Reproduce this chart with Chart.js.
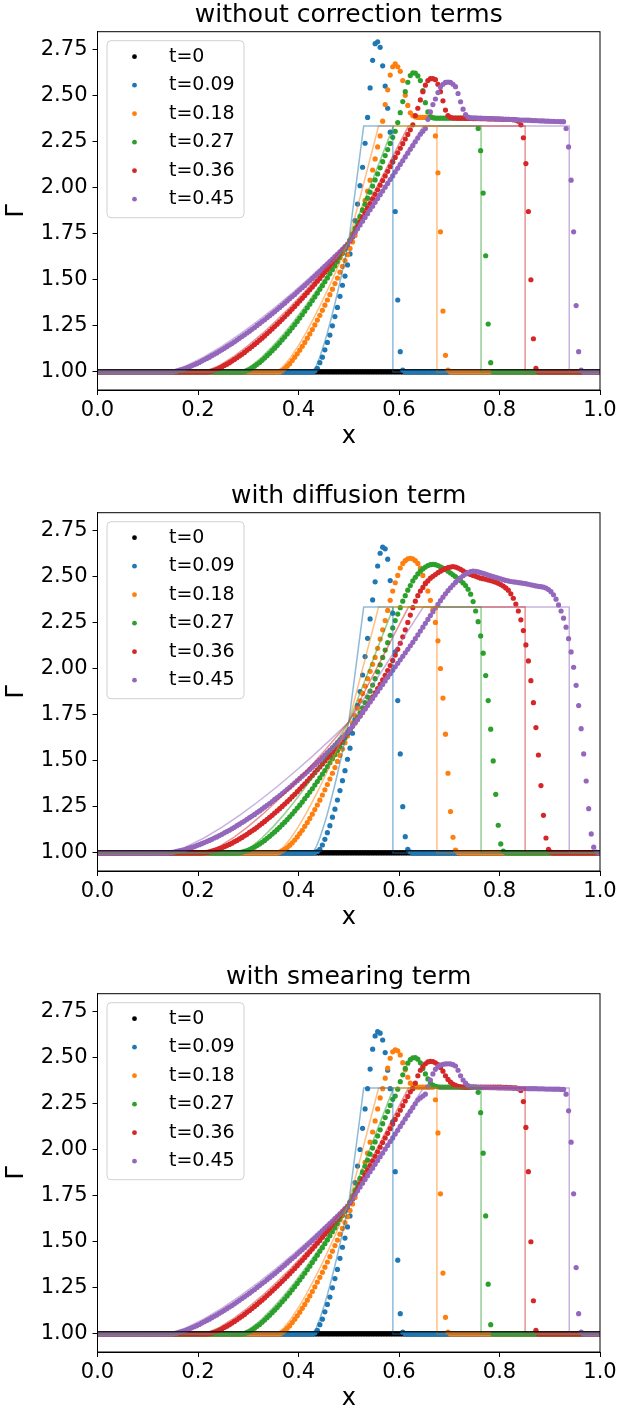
<!DOCTYPE html>
<html lang="en">
<head>
<meta charset="UTF-8">
<title>Gamma profiles</title>
<script src="https://cdn.jsdelivr.net/npm/chart.js"></script>
<style>
  body { margin: 0; background: #fff; width: 619px; height: 1413px; overflow: hidden; position: relative; }
  .panel { position: absolute; left: 0; width: 619px; height: 451px; }
</style>
</head>
<body>
<div class="panel" style="top:0"><canvas id="c1" width="619" height="451"></canvas></div>
<div class="panel" style="top:481px"><canvas id="c2" width="619" height="451"></canvas></div>
<div class="panel" style="top:962px"><canvas id="c3" width="619" height="451"></canvas></div>
<script>
// cell centres of the grid
const XS = [
0.0025,0.0075,0.0125,0.0175,0.0225,0.0275,0.0325,0.0375,0.0425,0.0475,0.0525,0.0575,0.0625,0.0675,0.0725,0.0775,0.0825,0.0875,0.0925,0.0975,
0.1025,0.1075,0.1125,0.1175,0.1225,0.1275,0.1325,0.1375,0.1425,0.1475,0.1525,0.1575,0.1625,0.1675,0.1725,0.1775,0.1825,0.1875,0.1925,0.1975,
0.2025,0.2075,0.2125,0.2175,0.2225,0.2275,0.2325,0.2375,0.2425,0.2475,0.2525,0.2575,0.2625,0.2675,0.2725,0.2775,0.2825,0.2875,0.2925,0.2975,
0.3025,0.3075,0.3125,0.3175,0.3225,0.3275,0.3325,0.3375,0.3425,0.3475,0.3525,0.3575,0.3625,0.3675,0.3725,0.3775,0.3825,0.3875,0.3925,0.3975,
0.4025,0.4075,0.4125,0.4175,0.4225,0.4275,0.4325,0.4375,0.4425,0.4475,0.4525,0.4575,0.4625,0.4675,0.4725,0.4775,0.4825,0.4875,0.4925,0.4975,
0.5025,0.5075,0.5125,0.5175,0.5225,0.5275,0.5325,0.5375,0.5425,0.5475,0.5525,0.5575,0.5625,0.5675,0.5725,0.5775,0.5825,0.5875,0.5925,0.5975,
0.6025,0.6075,0.6125,0.6175,0.6225,0.6275,0.6325,0.6375,0.6425,0.6475,0.6525,0.6575,0.6625,0.6675,0.6725,0.6775,0.6825,0.6875,0.6925,0.6975,
0.7025,0.7075,0.7125,0.7175,0.7225,0.7275,0.7325,0.7375,0.7425,0.7475,0.7525,0.7575,0.7625,0.7675,0.7725,0.7775,0.7825,0.7875,0.7925,0.7975,
0.8025,0.8075,0.8125,0.8175,0.8225,0.8275,0.8325,0.8375,0.8425,0.8475,0.8525,0.8575,0.8625,0.8675,0.8725,0.8775,0.8825,0.8875,0.8925,0.8975,
0.9025,0.9075,0.9125,0.9175,0.9225,0.9275,0.9325,0.9375,0.9425,0.9475,0.9525,0.9575,0.9625,0.9675,0.9725,0.9775,0.9825,0.9875,0.9925,0.9975
];

// t=0, same in every panel
const T0 = [
1,1,1,1,1,1,1,1,1,1,1,1,1,1,1,1,1,1,1,1,
1,1,1,1,1,1,1,1,1,1,1,1,1,1,1,1,1,1,1,1,
1,1,1,1,1,1,1,1,1,1,1,1,1,1,1,1,1,1,1,1,
1,1,1,1,1,1,1,1,1,1,1,1,1,1,1,1,1,1,1,1,
1,1,1,1,1,1,1,1,1,1,1,1,1,1,1,1,1,1,1,1,
1,1,1,1,1,1,1,1,1,1,1,1,1,1,1,1,1,1,1,1,
1,1,1,1,1,1,1,1,1,1,1,1,1,1,1,1,1,1,1,1,
1,1,1,1,1,1,1,1,1,1,1,1,1,1,1,1,1,1,1,1,
1,1,1,1,1,1,1,1,1,1,1,1,1,1,1,1,1,1,1,1,
1,1,1,1,1,1,1,1,1,1,1,1,1,1,1,1,1,1,1,1
];

// ---- without correction terms ----
const NOCORR_09 = [
1,1,1,1,1,1,1,1,1,1,1,1,1,1,1,1,1,1,1,1,
1,1,1,1,1,1,1,1,1,1,1,1,1,1,1,1,1,1,1,1,
1,1,1,1,1,1,1,1,1,1,1,1,1,1,1,1,1,1,1,1,
1,1,1,1,1,1,1,1,1,1,1,1,1,1,1,1,1,1,1,1,
1,1,1,1,1,1,1.005,1.02,1.05,1.08,1.12,1.16,1.2,1.25,1.3,1.35,1.41,1.47,1.52,1.58,
1.64,1.73,1.82,1.91,2.01,2.11,2.24,2.38,2.54,2.69,2.78,2.79,2.76,2.66,2.55,2.43,2.3,2.14,1.87,1.39,
1.11,1.01,1,1,1,1,1,1,1,1,1,1,1,1,1,1,1,1,1,1,
1,1,1,1,1,1,1,1,1,1,1,1,1,1,1,1,1,1,1,1,
1,1,1,1,1,1,1,1,1,1,1,1,1,1,1,1,1,1,1,1,
1,1,1,1,1,1,1,1,1,1,1,1,1,1,1,1,1,1,1,1
];
const NOCORR_18 = [
1,1,1,1,1,1,1,1,1,1,1,1,1,1,1,1,1,1,1,1,
1,1,1,1,1,1,1,1,1,1,1,1,1,1,1,1,1,1,1,1,
1,1,1,1,1,1,1,1,1,1,1,1,1,1,1,1,1,1,1,1,
1,1,1,1,1,1,1,1,1,1,1,1,1,1.007,1.018,1.031,1.045,1.062,1.08,1.098,
1.118,1.139,1.16,1.183,1.206,1.23,1.255,1.281,1.307,1.334,1.362,1.39,1.419,1.449,1.479,1.509,1.541,1.572,1.604,1.636,
1.67,1.705,1.74,1.782,1.83,1.88,1.93,1.98,2.04,2.095,2.155,2.22,2.28,2.36,2.45,2.53,2.61,2.655,2.67,2.655,
2.63,2.58,2.5,2.445,2.405,2.39,2.383,2.38,2.38,2.38,2.38,2.38,2.38,2.38,2.28,2.08,1.76,1.33,1.09,1.01,
1,1,1,1,1,1,1,1,1,1,1,1,1,1,1,1,1,1,1,1,
1,1,1,1,1,1,1,1,1,1,1,1,1,1,1,1,1,1,1,1,
1,1,1,1,1,1,1,1,1,1,1,1,1,1,1,1,1,1,1,1
];
const NOCORR_27 = [
1,1,1,1,1,1,1,1,1,1,1,1,1,1,1,1,1,1,1,1,
1,1,1,1,1,1,1,1,1,1,1,1,1,1,1,1,1,1,1,1,
1,1,1,1,1,1,1,1,1,1,1,1,1,1,1,1,1,1,1.001,1.007,
1.013,1.022,1.031,1.041,1.051,1.063,1.075,1.088,1.101,1.115,1.129,1.143,1.158,1.174,1.189,1.206,1.222,1.239,1.256,1.274,
1.292,1.31,1.329,1.348,1.367,1.387,1.407,1.427,1.448,1.468,1.489,1.51,1.532,1.554,1.575,1.597,1.62,1.642,1.665,1.688,
1.715,1.748,1.778,1.81,1.843,1.876,1.909,1.942,1.975,2.008,2.041,2.074,2.107,2.14,2.173,2.206,2.239,2.272,2.305,2.352,
2.406,2.466,2.52,2.571,2.607,2.622,2.62,2.605,2.58,2.525,2.46,2.41,2.385,2.378,2.376,2.376,2.376,2.376,2.376,2.376,
2.376,2.376,2.376,2.376,2.376,2.376,2.376,2.376,2.376,2.376,2.376,2.32,2.2,1.97,1.63,1.26,1.05,1,1,1,
1,1,1,1,1,1,1,1,1,1,1,1,1,1,1,1,1,1,1,1,
1,1,1,1,1,1,1,1,1,1,1,1,1,1,1,1,1,1,1,1
];
const NOCORR_36 = [
1,1,1,1,1,1,1,1,1,1,1,1,1,1,1,1,1,1,1,1,
1,1,1,1,1,1,1,1,1,1,1,1,1,1,1,1,1,1,1,1,
1,1,1,1,1.001,1.004,1.009,1.014,1.021,1.027,1.035,1.042,1.05,1.059,1.068,1.077,1.087,1.096,1.106,1.117,
1.127,1.138,1.149,1.16,1.172,1.183,1.195,1.208,1.22,1.233,1.246,1.259,1.272,1.285,1.299,1.313,1.327,1.341,1.355,1.37,
1.385,1.399,1.415,1.43,1.445,1.46,1.476,1.492,1.507,1.524,1.54,1.556,1.573,1.589,1.606,1.622,1.639,1.656,1.674,1.691,
1.712,1.735,1.76,1.788,1.813,1.838,1.863,1.888,1.913,1.938,1.963,1.988,2.013,2.038,2.063,2.088,2.113,2.138,2.163,2.188,
2.213,2.238,2.263,2.288,2.313,2.34,2.39,2.43,2.475,2.52,2.555,2.58,2.59,2.59,2.585,2.56,2.52,2.47,2.42,2.39,
2.38,2.377,2.377,2.376,2.376,2.376,2.375,2.375,2.375,2.374,2.374,2.374,2.373,2.373,2.373,2.372,2.372,2.372,2.371,2.371,
2.371,2.37,2.37,2.37,2.369,2.368,2.366,2.36,2.34,2.27,2.13,1.87,1.5,1.18,1.02,1,1,1,1,1,
1,1,1,1,1,1,1,1,1,1,1,1,1,1,1,1,1,1,1,1
];
const NOCORR_45 = [
1,1,1,1,1,1,1,1,1,1,1,1,1,1,1,1,1,1,1,1,
1,1,1,1,1,1,1,1,1,1,1.002,1.004,1.008,1.012,1.017,1.022,1.027,1.033,1.039,1.045,
1.051,1.059,1.066,1.073,1.08,1.088,1.096,1.103,1.112,1.12,1.128,1.137,1.146,1.154,1.163,1.173,1.182,1.192,1.201,1.211,
1.221,1.231,1.241,1.252,1.262,1.273,1.283,1.294,1.305,1.316,1.327,1.338,1.35,1.361,1.373,1.385,1.397,1.409,1.42,1.433,
1.445,1.457,1.469,1.482,1.494,1.507,1.52,1.533,1.546,1.559,1.572,1.585,1.598,1.611,1.625,1.638,1.651,1.665,1.679,1.693,
1.715,1.736,1.756,1.776,1.797,1.817,1.838,1.858,1.879,1.899,1.92,1.94,1.961,1.981,2.002,2.022,2.043,2.063,2.084,2.104,
2.125,2.145,2.166,2.186,2.207,2.227,2.248,2.268,2.289,2.305,2.32,2.37,2.41,2.45,2.48,2.515,2.545,2.56,2.57,2.572,
2.57,2.56,2.547,2.51,2.465,2.425,2.395,2.382,2.378,2.377,2.377,2.376,2.376,2.375,2.375,2.374,2.374,2.373,2.372,2.372,
2.371,2.371,2.37,2.37,2.369,2.368,2.368,2.367,2.366,2.366,2.365,2.365,2.364,2.363,2.363,2.362,2.361,2.361,2.36,2.36,
2.359,2.359,2.358,2.358,2.357,2.357,2.32,2.22,2.04,1.76,1.36,1.11,1.01,1,1,1,1,1,1,1
];

// ---- with diffusion term ----
const DIFF_09 = [
1,1,1,1,1,1,1,1,1,1,1,1,1,1,1,1,1,1,1,1,
1,1,1,1,1,1,1,1,1,1,1,1,1,1,1,1,1,1,1,1,
1,1,1,1,1,1,1,1,1,1,1,1,1,1,1,1,1,1,1,1,
1,1,1,1,1,1,1,1,1,1,1,1,1,1,1,1,1,1,1,1,
1,1,1,1,1,1,1.003,1.008,1.02,1.043,1.074,1.11,1.148,1.194,1.237,1.287,1.338,1.392,1.446,1.508,
1.568,1.649,1.725,1.8,1.875,1.965,2.065,2.164,2.269,2.372,2.47,2.556,2.625,2.658,2.649,2.593,2.477,2.3,2.09,1.826,
1.537,1.251,1.088,1.02,1.005,1,1,1,1,1,1,1,1,1,1,1,1,1,1,1,
1,1,1,1,1,1,1,1,1,1,1,1,1,1,1,1,1,1,1,1,
1,1,1,1,1,1,1,1,1,1,1,1,1,1,1,1,1,1,1,1,
1,1,1,1,1,1,1,1,1,1,1,1,1,1,1,1,1,1,1,1
];
const DIFF_18 = [
1,1,1,1,1,1,1,1,1,1,1,1,1,1,1,1,1,1,1,1,
1,1,1,1,1,1,1,1,1,1,1,1,1,1,1,1,1,1,1,1,
1,1,1,1,1,1,1,1,1,1,1,1,1,1,1,1,1,1,1,1,
1,1,1,1,1,1,1,1,1,1,1,1,1.004,1.011,1.019,1.029,1.042,1.055,1.07,1.087,
1.105,1.123,1.144,1.165,1.187,1.21,1.235,1.26,1.286,1.314,1.342,1.371,1.401,1.432,1.463,1.496,1.529,1.563,1.598,1.634,
1.67,1.705,1.745,1.785,1.825,1.865,1.905,1.945,1.985,2.023,2.06,2.11,2.16,2.21,2.26,2.315,2.37,2.42,2.465,2.505,
2.545,2.57,2.585,2.595,2.598,2.595,2.585,2.57,2.545,2.505,2.465,2.42,2.37,2.32,2.25,2.15,2,1.84,1.644,1.432,
1.224,1.085,1.016,1.003,1,1,1,1,1,1,1,1,1,1,1,1,1,1,1,1,
1,1,1,1,1,1,1,1,1,1,1,1,1,1,1,1,1,1,1,1,
1,1,1,1,1,1,1,1,1,1,1,1,1,1,1,1,1,1,1,1
];
const DIFF_27 = [
1,1,1,1,1,1,1,1,1,1,1,1,1,1,1,1,1,1,1,1,
1,1,1,1,1,1,1,1,1,1,1,1,1,1,1,1,1,1,1,1,
1,1,1,1,1,1,1,1,1,1,1,1,1,1,1,1,1.001,1.004,1.008,1.013,
1.018,1.025,1.032,1.04,1.049,1.058,1.068,1.079,1.09,1.102,1.114,1.126,1.139,1.153,1.167,1.181,1.196,1.211,1.227,1.243,
1.259,1.276,1.294,1.312,1.33,1.348,1.368,1.387,1.407,1.427,1.447,1.468,1.489,1.511,1.532,1.554,1.577,1.6,1.623,1.646,
1.67,1.69,1.712,1.735,1.76,1.787,1.815,1.845,1.877,1.91,1.945,1.982,2.02,2.06,2.1,2.14,2.18,2.22,2.26,2.295,
2.33,2.365,2.395,2.425,2.45,2.475,2.495,2.513,2.528,2.54,2.55,2.558,2.563,2.565,2.563,2.558,2.552,2.545,2.537,2.528,
2.518,2.508,2.498,2.487,2.476,2.464,2.45,2.43,2.403,2.363,2.312,2.254,2.177,2.083,1.962,1.826,1.671,1.499,1.318,1.15,
1.049,1.01,1.002,1,1,1,1,1,1,1,1,1,1,1,1,1,1,1,1,1,
1,1,1,1,1,1,1,1,1,1,1,1,1,1,1,1,1,1,1,1
];
const DIFF_36 = [
1,1,1,1,1,1,1,1,1,1,1,1,1,1,1,1,1,1,1,1,
1,1,1,1,1,1,1,1,1,1,1,1,1,1,1,1,1,1,1,1,
1,1,1.001,1.003,1.006,1.01,1.014,1.018,1.023,1.028,1.034,1.04,1.046,1.053,1.061,1.068,1.076,1.084,1.093,1.101,
1.111,1.12,1.129,1.139,1.15,1.16,1.171,1.182,1.193,1.204,1.216,1.228,1.24,1.252,1.265,1.278,1.291,1.305,1.318,1.332,
1.346,1.361,1.375,1.39,1.405,1.42,1.435,1.451,1.466,1.482,1.499,1.515,1.531,1.548,1.565,1.582,1.599,1.616,1.634,1.652,
1.67,1.687,1.705,1.723,1.742,1.762,1.782,1.803,1.824,1.846,1.868,1.891,1.914,1.938,1.963,1.989,2.016,2.044,2.073,2.104,
2.137,2.172,2.21,2.25,2.29,2.33,2.365,2.395,2.42,2.44,2.46,2.475,2.49,2.5,2.51,2.52,2.528,2.535,2.542,2.547,
2.55,2.553,2.55,2.545,2.538,2.53,2.522,2.515,2.51,2.505,2.5,2.495,2.49,2.487,2.484,2.48,2.477,2.473,2.468,2.462,
2.455,2.447,2.437,2.425,2.405,2.381,2.35,2.312,2.264,2.206,2.128,2.041,1.934,1.815,1.68,1.531,1.365,1.204,1.081,1.02,
1.004,1,1,1,1,1,1,1,1,1,1,1,1,1,1,1,1,1,1,1
];
const DIFF_45 = [
1,1,1,1,1,1,1,1,1,1,1,1,1,1,1,1,1,1,1,1,
1,1,1,1,1,1,1,1,1.001,1.003,1.005,1.008,1.011,1.014,1.017,1.022,1.026,1.03,1.034,1.04,
1.045,1.05,1.056,1.062,1.068,1.074,1.081,1.087,1.094,1.101,1.109,1.116,1.123,1.131,1.139,1.148,1.156,1.165,1.173,1.182,
1.191,1.2,1.209,1.219,1.228,1.238,1.248,1.258,1.268,1.279,1.29,1.3,1.311,1.322,1.333,1.345,1.356,1.368,1.38,1.392,
1.404,1.416,1.428,1.44,1.453,1.465,1.478,1.491,1.504,1.517,1.531,1.544,1.557,1.571,1.585,1.599,1.613,1.627,1.641,1.656,
1.67,1.688,1.706,1.724,1.743,1.762,1.781,1.8,1.819,1.838,1.857,1.876,1.895,1.914,1.933,1.952,1.971,1.99,2.009,2.028,
2.047,2.066,2.085,2.104,2.123,2.142,2.162,2.182,2.203,2.224,2.245,2.266,2.287,2.308,2.328,2.348,2.368,2.387,2.405,2.422,
2.438,2.453,2.467,2.48,2.492,2.503,2.512,2.52,2.525,2.528,2.527,2.524,2.52,2.516,2.512,2.507,2.502,2.498,2.494,2.49,
2.486,2.482,2.478,2.475,2.472,2.47,2.468,2.466,2.464,2.462,2.46,2.457,2.454,2.451,2.448,2.446,2.444,2.441,2.436,2.428,
2.417,2.4,2.376,2.345,2.312,2.273,2.224,2.162,2.09,2.007,1.909,1.799,1.674,1.537,1.39,1.24,1.103,1.031,1.005,1
];

// ---- with smearing term ----
const SMEAR_09 = [
1,1,1,1,1,1,1,1,1,1,1,1,1,1,1,1,1,1,1,1,
1,1,1,1,1,1,1,1,1,1,1,1,1,1,1,1,1,1,1,1,
1,1,1,1,1,1,1,1,1,1,1,1,1,1,1,1,1,1,1,1,
1,1,1,1,1,1,1,1,1,1,1,1,1,1,1,1,1,1,1,1,
1,1,1,1,1,1,1.005,1.02,1.05,1.08,1.12,1.16,1.2,1.25,1.3,1.35,1.41,1.47,1.52,1.58,
1.64,1.73,1.82,1.91,2,2.115,2.22,2.33,2.436,2.544,2.616,2.639,2.631,2.594,2.526,2.43,2.33,2.15,1.88,1.4,
1.11,1.01,1,1,1,1,1,1,1,1,1,1,1,1,1,1,1,1,1,1,
1,1,1,1,1,1,1,1,1,1,1,1,1,1,1,1,1,1,1,1,
1,1,1,1,1,1,1,1,1,1,1,1,1,1,1,1,1,1,1,1,
1,1,1,1,1,1,1,1,1,1,1,1,1,1,1,1,1,1,1,1
];
const SMEAR_18 = [
1,1,1,1,1,1,1,1,1,1,1,1,1,1,1,1,1,1,1,1,
1,1,1,1,1,1,1,1,1,1,1,1,1,1,1,1,1,1,1,1,
1,1,1,1,1,1,1,1,1,1,1,1,1,1,1,1,1,1,1,1,
1,1,1,1,1,1,1,1,1,1,1,1,1,1.007,1.018,1.031,1.045,1.062,1.08,1.098,
1.118,1.139,1.16,1.183,1.206,1.23,1.255,1.281,1.307,1.334,1.362,1.39,1.419,1.449,1.479,1.509,1.541,1.572,1.604,1.636,
1.67,1.705,1.74,1.782,1.83,1.88,1.93,1.98,2.04,2.095,2.155,2.22,2.28,2.33,2.387,2.441,2.495,2.53,2.54,2.535,
2.513,2.471,2.432,2.392,2.36,2.345,2.34,2.338,2.338,2.338,2.338,2.338,2.338,2.338,2.27,2.09,1.76,1.33,1.09,1.01,
1,1,1,1,1,1,1,1,1,1,1,1,1,1,1,1,1,1,1,1,
1,1,1,1,1,1,1,1,1,1,1,1,1,1,1,1,1,1,1,1,
1,1,1,1,1,1,1,1,1,1,1,1,1,1,1,1,1,1,1,1
];
const SMEAR_27 = [
1,1,1,1,1,1,1,1,1,1,1,1,1,1,1,1,1,1,1,1,
1,1,1,1,1,1,1,1,1,1,1,1,1,1,1,1,1,1,1,1,
1,1,1,1,1,1,1,1,1,1,1,1,1,1,1,1,1,1,1.001,1.007,
1.013,1.022,1.031,1.041,1.051,1.063,1.075,1.088,1.101,1.115,1.129,1.143,1.158,1.174,1.189,1.206,1.222,1.239,1.256,1.274,
1.292,1.31,1.329,1.348,1.367,1.387,1.407,1.427,1.448,1.468,1.489,1.51,1.532,1.554,1.575,1.597,1.62,1.642,1.665,1.688,
1.715,1.748,1.778,1.81,1.843,1.876,1.909,1.942,1.975,2.008,2.041,2.074,2.107,2.14,2.173,2.206,2.239,2.272,2.29,2.327,
2.368,2.405,2.44,2.468,2.487,2.497,2.498,2.49,2.47,2.44,2.41,2.383,2.362,2.35,2.343,2.34,2.338,2.338,2.338,2.338,
2.338,2.338,2.338,2.338,2.338,2.338,2.338,2.338,2.338,2.338,2.338,2.31,2.2,1.98,1.64,1.27,1.05,1,1,1,
1,1,1,1,1,1,1,1,1,1,1,1,1,1,1,1,1,1,1,1,
1,1,1,1,1,1,1,1,1,1,1,1,1,1,1,1,1,1,1,1
];
const SMEAR_36 = [
1,1,1,1,1,1,1,1,1,1,1,1,1,1,1,1,1,1,1,1,
1,1,1,1,1,1,1,1,1,1,1,1,1,1,1,1,1,1,1,1,
1,1,1,1,1.001,1.004,1.009,1.014,1.021,1.027,1.035,1.042,1.05,1.059,1.068,1.077,1.087,1.096,1.106,1.117,
1.127,1.138,1.149,1.16,1.172,1.183,1.195,1.208,1.22,1.233,1.246,1.259,1.272,1.285,1.299,1.313,1.327,1.341,1.355,1.37,
1.385,1.399,1.415,1.43,1.445,1.46,1.476,1.492,1.507,1.524,1.54,1.556,1.573,1.589,1.606,1.622,1.639,1.656,1.674,1.691,
1.712,1.735,1.76,1.788,1.813,1.838,1.863,1.888,1.913,1.938,1.963,1.988,2.013,2.038,2.063,2.088,2.113,2.138,2.163,2.188,
2.213,2.238,2.263,2.288,2.313,2.33,2.36,2.4,2.43,2.45,2.465,2.475,2.478,2.477,2.47,2.46,2.445,2.425,2.4,2.38,
2.365,2.355,2.348,2.343,2.34,2.339,2.338,2.338,2.338,2.338,2.338,2.338,2.338,2.338,2.338,2.338,2.338,2.338,2.338,2.338,
2.338,2.337,2.337,2.336,2.336,2.335,2.334,2.33,2.32,2.26,2.12,1.88,1.5,1.18,1.02,1,1,1,1,1,
1,1,1,1,1,1,1,1,1,1,1,1,1,1,1,1,1,1,1,1
];
const SMEAR_45 = [
1,1,1,1,1,1,1,1,1,1,1,1,1,1,1,1,1,1,1,1,
1,1,1,1,1,1,1,1,1,1,1.002,1.004,1.008,1.012,1.017,1.022,1.027,1.033,1.039,1.045,
1.051,1.059,1.066,1.073,1.08,1.088,1.096,1.103,1.112,1.12,1.128,1.137,1.146,1.154,1.163,1.173,1.182,1.192,1.201,1.211,
1.221,1.231,1.241,1.252,1.262,1.273,1.283,1.294,1.305,1.316,1.327,1.338,1.35,1.361,1.373,1.385,1.397,1.409,1.42,1.433,
1.445,1.457,1.469,1.482,1.494,1.507,1.52,1.533,1.546,1.559,1.572,1.585,1.598,1.611,1.625,1.638,1.651,1.665,1.679,1.693,
1.715,1.736,1.756,1.776,1.797,1.817,1.838,1.858,1.879,1.899,1.92,1.94,1.961,1.981,2.002,2.022,2.043,2.063,2.084,2.104,
2.125,2.145,2.166,2.186,2.207,2.227,2.248,2.268,2.28,2.29,2.3,2.34,2.377,2.41,2.435,2.45,2.458,2.462,2.464,2.465,
2.464,2.46,2.453,2.43,2.4,2.377,2.36,2.346,2.34,2.338,2.337,2.337,2.337,2.336,2.336,2.336,2.335,2.335,2.335,2.334,
2.334,2.334,2.333,2.333,2.333,2.332,2.332,2.332,2.331,2.331,2.331,2.33,2.33,2.33,2.33,2.329,2.329,2.329,2.328,2.328,
2.328,2.327,2.327,2.327,2.326,2.326,2.3,2.21,2.04,1.76,1.36,1.11,1.01,1,1,1,1,1,1,1
];

// exact solution, vertices (shared by the three panels)
const EXACT_Y = [1, 1, 1.032, 1.081, 1.14, 1.206, 1.279, 1.356, 1.439, 1.525, 1.616, 1.71, 2.333, 2.333, 1, 1];
const EXACT_X_09 = [0, 0.428, 0.4352, 0.4424, 0.4496, 0.4568, 0.464, 0.4712, 0.4784, 0.4856, 0.4928, 0.5, 0.5297, 0.5878, 0.5878, 1];
const EXACT_X_18 = [0, 0.356, 0.3704, 0.3848, 0.3992, 0.4136, 0.428, 0.4424, 0.4568, 0.4712, 0.4856, 0.5, 0.5594, 0.6755, 0.6755, 1];
const EXACT_X_27 = [0, 0.284, 0.3056, 0.3272, 0.3488, 0.3704, 0.392, 0.4136, 0.4352, 0.4568, 0.4784, 0.5, 0.5891, 0.7633, 0.7633, 1];
const EXACT_X_36 = [0, 0.212, 0.2408, 0.2696, 0.2984, 0.3272, 0.356, 0.3848, 0.4136, 0.4424, 0.4712, 0.5, 0.6188, 0.851, 0.851, 1];
const EXACT_X_45 = [0, 0.14, 0.176, 0.212, 0.248, 0.284, 0.32, 0.356, 0.392, 0.428, 0.464, 0.5, 0.6485, 0.9388, 0.9388, 1];
const EXACT_X_0 = [0, 1];
const EXACT_Y_0 = [1.012, 1.012];

const LABELS = ['t=0', 't=0.09', 't=0.18', 't=0.27', 't=0.36', 't=0.45'];
const COLORS = ['#000000', '#1f77b4', '#ff7f0e', '#2ca02c', '#d62728', '#9467bd'];
const LINE_COLORS = ['rgba(0,0,0,0.75)', 'rgba(31,119,180,0.5)', 'rgba(255,127,14,0.5)',
                     'rgba(44,160,44,0.5)', 'rgba(214,39,40,0.5)', 'rgba(148,103,189,0.5)'];
const X_TICKS = [0, 0.2, 0.4, 0.6, 0.8, 1.0];
const Y_TICKS = [1.00, 1.25, 1.50, 1.75, 2.00, 2.25, 2.50, 2.75];

Chart.defaults.font.family = "'DejaVu Sans', sans-serif";
Chart.defaults.color = '#000';

// box round the axes, like matplotlib spines
const frame = {
  id: 'frame',
  afterDraw(chart) {
    const { ctx, chartArea: a } = chart;
    ctx.save();
    ctx.strokeStyle = '#000';
    ctx.lineWidth = 1;
    ctx.strokeRect(a.left, a.top, a.right - a.left, a.bottom - a.top);
    ctx.restore();
  }
};

// legend box in the upper left corner of the axes
const legendBox = {
  id: 'legendBox',
  afterDatasetsDraw(chart) {
    const { ctx, chartArea: a } = chart;
    const x = a.left + 9.5, y = a.top + 9, w = 137, h = 177, r = 4;
    ctx.save();
    ctx.beginPath();
    ctx.moveTo(x + r, y);
    ctx.lineTo(x + w - r, y);
    ctx.arcTo(x + w, y, x + w, y + r, r);
    ctx.lineTo(x + w, y + h - r);
    ctx.arcTo(x + w, y + h, x + w - r, y + h, r);
    ctx.lineTo(x + r, y + h);
    ctx.arcTo(x, y + h, x, y + h - r, r);
    ctx.lineTo(x, y + r);
    ctx.arcTo(x, y, x + r, y, r);
    ctx.closePath();
    ctx.fillStyle = 'rgba(255,255,255,0.8)';
    ctx.fill();
    ctx.strokeStyle = '#d0d0d0';
    ctx.lineWidth = 1;
    ctx.stroke();
    ctx.font = "19px 'DejaVu Sans'";
    ctx.textBaseline = 'middle';
    ctx.textAlign = 'left';
    LABELS.forEach((lab, i) => {
      const cy = y + 16 + i * 28.5;
      ctx.fillStyle = COLORS[i];
      ctx.beginPath();
      ctx.arc(x + 27.5, cy, 2.4, 0, Math.PI * 2);
      ctx.fill();
      ctx.fillStyle = '#000';
      ctx.fillText(lab, x + 62, cy);
    });
    ctx.restore();
  }
};

function points(xs, ys) {
  return xs.map((x, i) => ({ x: x, y: ys[i] }));
}

function makePanel(id, title, series) {
  const exactX = [EXACT_X_0, EXACT_X_09, EXACT_X_18, EXACT_X_27, EXACT_X_36, EXACT_X_45];
  const datasets = [];
  series.forEach((ys, i) => {
    datasets.push({
      label: LABELS[i],
      data: points(XS, ys),
      showLine: false,
      pointRadius: 2.6,
      pointBorderWidth: 0,
      pointBackgroundColor: COLORS[i],
      order: 6 - i
    });
  });
  exactX.forEach((xs, i) => {
    datasets.push({
      label: 'exact ' + LABELS[i],
      data: points(xs, i === 0 ? EXACT_Y_0 : EXACT_Y),
      showLine: true,
      borderColor: LINE_COLORS[i],
      borderWidth: 1.5,
      pointRadius: 0,
      tension: 0,
      fill: false,
      order: 0
    });
  });

  new Chart(document.getElementById(id), {
    type: 'scatter',
    data: { datasets },
    options: {
      responsive: false,
      animation: false,
      events: [],
      layout: { padding: { left: 0, right: 19, top: 0, bottom: 0 } },
      plugins: {
        legend: { display: false },
        tooltip: { enabled: false },
        title: {
          display: true,
          text: title,
          fullSize: false,
          color: '#000',
          font: { size: 25, weight: 'normal' },
          padding: { top: 0, bottom: 1.7 }
        }
      },
      scales: {
        x: {
          type: 'linear',
          min: 0,
          max: 1,
          afterBuildTicks(s) { s.ticks = X_TICKS.map(v => ({ value: v })); },
          afterFit(s) { s.height = 61; s.paddingLeft = 0; s.paddingRight = 0; },
          ticks: { callback: v => v.toFixed(1), font: { size: 21 }, color: '#000', padding: 2.5, maxRotation: 0 },
          grid: { drawOnChartArea: false, tickLength: 5, color: '#000' },
          border: { color: '#000' },
          title: { display: true, text: 'x', font: { size: 24 }, color: '#000', padding: 0 }
        },
        y: {
          type: 'linear',
          min: 0.902,
          max: 2.845,
          afterBuildTicks(s) { s.ticks = Y_TICKS.map(v => ({ value: v })); },
          afterFit(s) { s.width = 97.5; s.paddingTop = 0; s.paddingBottom = 0; },
          ticks: { callback: v => v.toFixed(2), font: { size: 21 }, color: '#000', padding: 5 },
          grid: { drawOnChartArea: false, tickLength: 5, color: '#000' },
          border: { color: '#000' },
          title: { display: true, text: 'Γ', font: { size: 24 }, color: '#000', padding: { top: 2.5, bottom: 0 } }
        }
      }
    },
    plugins: [frame, legendBox]
  });
}

makePanel('c1', 'without correction terms', [T0, NOCORR_09, NOCORR_18, NOCORR_27, NOCORR_36, NOCORR_45]);
makePanel('c2', 'with diffusion term', [T0, DIFF_09, DIFF_18, DIFF_27, DIFF_36, DIFF_45]);
makePanel('c3', 'with smearing term', [T0, SMEAR_09, SMEAR_18, SMEAR_27, SMEAR_36, SMEAR_45]);
</script>
</body>
</html>
